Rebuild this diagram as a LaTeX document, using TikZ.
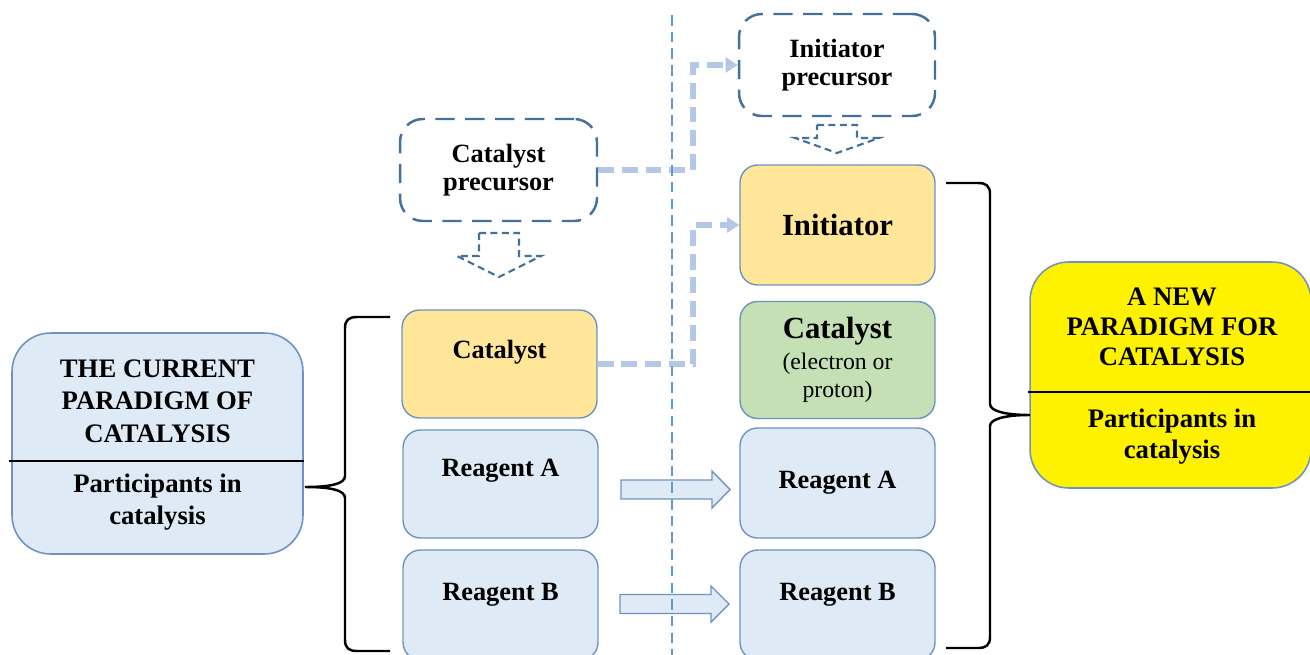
\documentclass[tikz,border=0pt]{standalone}
\usepackage{fontspec}
\setmainfont{Liberation Serif}
\usetikzlibrary{arrows.meta,positioning}

\definecolor{boxblue}{HTML}{DEEBF7}
\definecolor{edgeblue}{HTML}{7092C2}
\definecolor{boxyellow}{HTML}{FFE699}
\definecolor{boxgreen}{HTML}{C5E0B4}
\definecolor{dashblue}{HTML}{41719C}
\definecolor{linkblue}{HTML}{B4C7E7}
\definecolor{sepblue}{HTML}{5B9BD5}

\tikzset{
    stagebox/.style={draw=edgeblue, line width=0.8pt, rounded corners=10pt,
        minimum width=3.9cm, inner sep=2pt, align=center,
        font=\fontsize{15}{17.5}\selectfont\bfseries},
    precbox/.style={stagebox, draw=dashblue, line width=1.4pt,
        dash pattern=on 11pt off 6pt, rounded corners=13pt,
        font=\fontsize{15}{16}\selectfont\bfseries},
    bigbox/.style={draw=edgeblue, line width=0.9pt, rounded corners=22pt},
    bigtext/.style={align=center, font=\fontsize{15.2}{18.5}\selectfont\bfseries},
    linkline/.style={linkblue, line width=2.9pt, dash pattern=on 9pt off 4.5pt,
        -{Triangle[length=7pt,width=8.5pt]}},
    hollowdash/.style={dashblue, line width=1.2pt, dash pattern=on 4pt off 2.5pt},
    blockarrow/.style={draw=edgeblue, fill=boxblue, line width=0.8pt},
    brace/.style={black, line width=1.4pt},
}

\begin{document}
\begin{tikzpicture}[x=0.02cm, y=-0.02cm]
    \useasboundingbox (0,0) rectangle (1310,655);

    % left column: current paradigm
    \node[precbox, minimum width=3.94cm, minimum height=2.04cm] (catpre) at (498.5,170) {Catalyst\\precursor};
    \node[stagebox, fill=boxyellow, minimum height=2.16cm, text depth=16.5pt] (catL) at (499.5,364) {Catalyst};
    \node[stagebox, fill=boxblue, minimum height=2.16cm, text depth=18pt] (reaAL) at (500.5,484) {Reagent A};
    \node[stagebox, fill=boxblue, minimum height=2.2cm, text depth=14.5pt] (reaBL) at (500.5,605) {Reagent B};

    % right column: new paradigm
    \node[precbox, minimum width=3.92cm, minimum height=2.04cm] (inipre) at (837,65) {Initiator\\precursor};
    \node[stagebox, fill=boxyellow, minimum height=2.4cm,
        font=\fontsize{17.5}{20}\selectfont\bfseries] (ini) at (837.5,225) {Initiator};
    \node[stagebox, fill=boxgreen, minimum height=2.34cm,
        font=\fontsize{13.5}{16}\selectfont] (catR) at (837.5,360)
        {{\fontsize{17.5}{20}\selectfont\bfseries Catalyst}\\[1.5pt](electron or\\proton)};
    \node[stagebox, fill=boxblue, minimum height=2.2cm] (reaAR) at (837.5,483) {Reagent A};
    \node[stagebox, fill=boxblue, minimum height=2.2cm, text depth=14.5pt] (reaBR) at (837.5,605) {Reagent B};

    % paradigm boxes
    \node[bigbox, fill=boxblue, minimum width=5.82cm, minimum height=4.42cm] (lcur) at (157.5,443.5) {};
    \node[bigtext] (lcurtop) at (157.5,401) {THE CURRENT\\PARADIGM OF\\CATALYSIS};
    \node[bigtext] (lcurbot) at (157.5,502) {Participants in\\catalysis};
    \draw[line width=1.3pt] (9,461) -- (lcur.east |- 0,461);

    \node[bigbox, fill=yellow, minimum width=5.62cm, minimum height=4.52cm] (rnew) at (1170.5,375) {};
    \node[bigtext, font=\fontsize{15.2}{17}\selectfont\bfseries] (rnewtop) at (1172,327) {A NEW\\PARADIGM FOR\\CATALYSIS};
    \node[bigtext, font=\fontsize{15.2}{17.5}\selectfont\bfseries] (rnewbot) at (1172,436.5) {Participants in\\catalysis};
    \draw[line width=1.3pt] (1028,392) -- (rnew.east |- 0,392);

    % precursor to active species
    \draw[hollowdash] (479,233) -- (519,233) -- (519,256) -- (541,256) -- (499,277)
        -- (457,256) -- (479,256) -- cycle;
    \draw[hollowdash] (817,125) -- (857,125) -- (857,138) -- (879,138) -- (837,153)
        -- (795,138) -- (817,138) -- cycle;

    % reagents carried over
    \draw[blockarrow] (621,480) -- (712,480) -- (712,471) -- (730,489.5) -- (712,508)
        -- (712,499) -- (621,499) -- cycle;
    \draw[blockarrow] (620,594.5) -- (711,594.5) -- (711,586) -- (729,604) -- (711,622)
        -- (711,613.5) -- (620,613.5) -- cycle;

    % catalyst becomes initiator
    \coordinate (bend) at (693,0);
    \draw[linkline] (catpre.east) -- (catpre.east -| bend) |- (inipre.west);
    \draw[linkline] (catL.east) -- (catL.east -| bend) |- (ini.west);

    % braces
    \draw[brace] (390,317) -- (357,317) .. controls (349,317) and (345,320) .. (345,328)
        -- (345,476) .. controls (345,484) and (330,487) .. (305,487)
        .. controls (330,487) and (345,490) .. (345,498)
        -- (345,640) .. controls (345,648) and (349,651) .. (357,651) -- (390,651);
    \draw[brace] (946,183) -- (978,183) .. controls (986,183) and (990,186) .. (990,194)
        -- (990,404) .. controls (990,411) and (1005,415) .. (1030,415)
        .. controls (1005,415) and (990,419) .. (990,426)
        -- (990,637) .. controls (990,645) and (986,648) .. (978,648) -- (946,648);

    % separator
    \coordinate (septop) at (672,15);
    \coordinate (sepbot) at (672,655);
    \draw[sepblue, line width=1.2pt, dash pattern=on 6pt off 3.5pt] (septop) -- (sepbot);
\end{tikzpicture}
\end{document}
